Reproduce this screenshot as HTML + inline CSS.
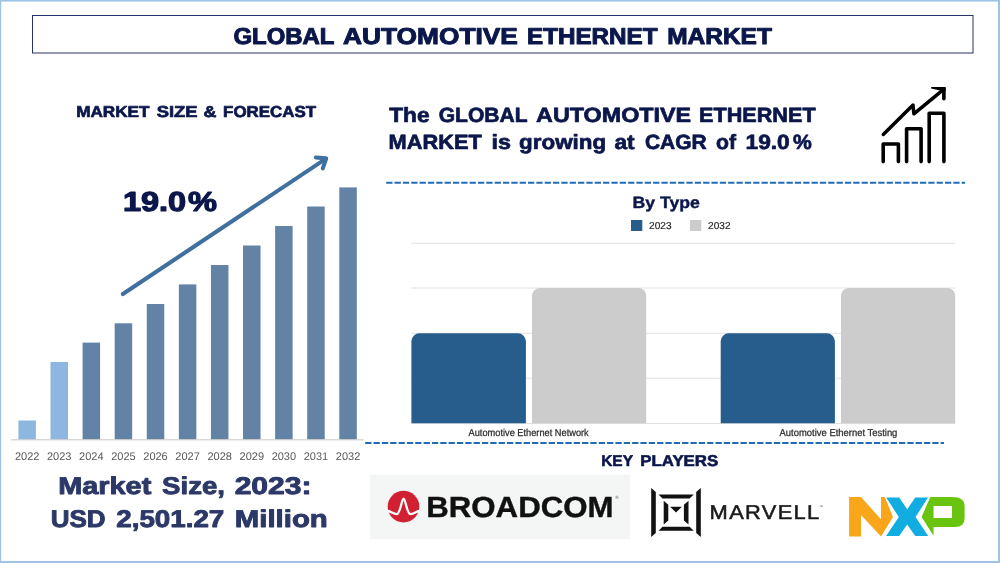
<!DOCTYPE html>
<html lang="en"><head><meta charset="utf-8"><title>Global Automotive Ethernet Market</title>
<style>
html,body{margin:0;padding:0;background:#fff;}
body{width:1000px;height:563px;overflow:hidden;position:relative;font-family:"Liberation Sans",sans-serif;}
svg{position:absolute;left:0;top:0;display:block}
text{font-family:"Liberation Sans",sans-serif;text-rendering:geometricPrecision}
</style></head><body>
<svg width="1000" height="563" viewBox="0 0 1000 563">
<rect x="0" y="0" width="1000" height="563" fill="#ffffff"/>
<!-- page border -->
<rect x="0" y="0" width="1000" height="1.6" fill="#9dc3e6"/>
<rect x="0" y="0" width="1.2" height="563" fill="#9dc3e6"/>
<rect x="998" y="0" width="2" height="563" fill="#9dc3e6"/>
<rect x="0" y="561" width="1000" height="2" fill="#9dc3e6"/>
<!-- title box -->
<rect x="32.5" y="15.5" width="940.5" height="37.5" fill="#fff" stroke="#27326a" stroke-width="1"/>
<g>
<rect x="18.40" y="420.5" width="17.5" height="19.1" fill="#8db7df"/>
<text x="27.15" y="460" font-size="11" fill="#595959" text-anchor="middle">2022</text>
<rect x="50.49" y="362" width="17.5" height="77.6" fill="#8db7df"/>
<text x="59.24" y="460" font-size="11" fill="#595959" text-anchor="middle">2023</text>
<rect x="82.58" y="342.6" width="17.5" height="97.0" fill="#6283a5"/>
<text x="91.33" y="460" font-size="11" fill="#595959" text-anchor="middle">2024</text>
<rect x="114.67" y="323.3" width="17.5" height="116.3" fill="#6283a5"/>
<text x="123.42" y="460" font-size="11" fill="#595959" text-anchor="middle">2025</text>
<rect x="146.76" y="304" width="17.5" height="135.6" fill="#6283a5"/>
<text x="155.51" y="460" font-size="11" fill="#595959" text-anchor="middle">2026</text>
<rect x="178.85" y="284.4" width="17.5" height="155.2" fill="#6283a5"/>
<text x="187.60" y="460" font-size="11" fill="#595959" text-anchor="middle">2027</text>
<rect x="210.94" y="265" width="17.5" height="174.6" fill="#6283a5"/>
<text x="219.69" y="460" font-size="11" fill="#595959" text-anchor="middle">2028</text>
<rect x="243.03" y="245.5" width="17.5" height="194.1" fill="#6283a5"/>
<text x="251.78" y="460" font-size="11" fill="#595959" text-anchor="middle">2029</text>
<rect x="275.12" y="226" width="17.5" height="213.6" fill="#6283a5"/>
<text x="283.87" y="460" font-size="11" fill="#595959" text-anchor="middle">2030</text>
<rect x="307.21" y="206.5" width="17.5" height="233.1" fill="#6283a5"/>
<text x="315.96" y="460" font-size="11" fill="#595959" text-anchor="middle">2031</text>
<rect x="339.30" y="187.4" width="17.5" height="252.2" fill="#6283a5"/>
<text x="348.05" y="460" font-size="11" fill="#595959" text-anchor="middle">2032</text>
<rect x="11" y="439.2" width="352.5" height="1.2" fill="#cfcfcf"/>
</g>
<g fill="none" stroke="#3f709f" stroke-width="4.1" stroke-linecap="round" stroke-linejoin="round">
<path d="M122.9 294.0 L325.6 158.9"/>
<path d="M315.8 157.5 L326.2 158.4 L322.8 168.4"/>
</g>
<g fill="none" stroke="#000" stroke-width="3.6" stroke-linecap="round" stroke-linejoin="round">
<path d="M883.2 161.6 V144 H898.4 V161.6"/>
<path d="M906.6 161.6 V128.7 H921.1 V161.6"/>
<path d="M929.2 161.6 V113.3 H943.9 V161.6"/>
<path d="M883.3 134.4 L913.0 105.0 L913.9 113.8 L943.3 89.6" stroke-width="3.5"/>
<path d="M943.9 89 V98.7" stroke-width="3.6"/>
</g>
<polygon points="931.2,86.9 945.7,86.9 945.7,90.8 939,90.2 931.2,88.4" fill="#000"/>
<path d="M386.2 182.7 H965" stroke="#1f6db8" stroke-width="2" stroke-dasharray="6.3 2.04" fill="none"/>
<path d="M365.2 443.1 H944" stroke="#1f6db8" stroke-width="2" stroke-dasharray="6.3 2.04" fill="none"/>
<rect x="631" y="220" width="11.3" height="11" fill="#265d8d"/>
<rect x="690" y="220" width="11.3" height="11" fill="#cccccc"/>
<rect x="411.4" y="242.8" width="543.8" height="1" fill="#e1e1e1"/>
<rect x="411.4" y="287.5" width="543.8" height="1" fill="#e1e1e1"/>
<rect x="411.4" y="332.8" width="543.8" height="1" fill="#e1e1e1"/>
<rect x="411.4" y="377.7" width="543.8" height="1" fill="#e1e1e1"/>
<rect x="411.4" y="423.0" width="543.8" height="1" fill="#e1e1e1"/>
<path d="M411.4 423.3 V341.3 A8 8 0 0 1 419.4 333.3 H517.9 A8 8 0 0 1 525.9 341.3 V423.3 Z" fill="#265d8d"/>
<path d="M532 423.3 V295.9 A8 8 0 0 1 540 287.9 H638.2 A8 8 0 0 1 646.2 295.9 V423.3 Z" fill="#cccccc"/>
<path d="M720.7 423.3 V341.3 A8 8 0 0 1 728.7 333.3 H826.9 A8 8 0 0 1 834.9 341.3 V423.3 Z" fill="#265d8d"/>
<path d="M841 423.3 V295.9 A8 8 0 0 1 849 287.9 H947.2 A8 8 0 0 1 955.2 295.9 V423.3 Z" fill="#cccccc"/>
<rect x="369.8" y="474.7" width="260.4" height="64.4" fill="#f4f5f5"/>
<circle cx="403.5" cy="506.6" r="15.8" fill="#d12031"/>
<path d="M388 511 C391 511.5 393.5 514.2 396.5 514.2 C400.6 514.2 401.5 498.6 403.6 498.6 C405.7 498.6 406.6 514.2 410.7 514.2 C413.7 514.2 416.2 511.5 419.2 511" fill="none" stroke="#fff" stroke-width="2.3" stroke-linecap="butt"/>
<text x="615.3" y="498.8" font-size="4.5" fill="#555">®</text>
<g fill="#111">
<polygon points="651.2,488.1 655.8,492.1 655.8,533.1 651.2,537.1"/>
<polygon points="700.8,488.1 696.2,492.1 696.2,533.1 700.8,537.1"/>
<polygon points="658.5,494.4 693.7,494.4 689.6,498.5 662.5,498.5"/>
<polygon points="662.5,526.7 689.6,526.7 693.7,530.8 658.5,530.8"/>
<polygon points="663.7,500.8 668.3,504.8 668.3,520.4 663.7,524.4"/>
<polygon points="688.5,500.8 683.9,504.8 683.9,520.4 688.5,524.4"/>
<polygon points="670.2,506.8 681.8,506.8 676,512.5"/>
</g>
<text x="819.5" y="507.5" font-size="3.5" fill="#444">™</text>
<polygon points="849.10,496.90 861.00,496.90 881.02,519.30 881.02,496.90 884.80,496.90 892.92,516.92 881.02,536.52 861.00,515.10 861.00,536.52 849.10,536.52" fill="#f9a61a"/>
<path fill-rule="evenodd" d="M930.30 496.90 L952.00 496.90 Q964.60 496.90 964.60 506.00 L964.60 518.60 Q964.60 527.00 954.80 527.00 L933.52 527.00 L933.52 535.68 L921.62 516.92 Z M933.52 506.00 L952.00 506.00 L952.00 517.90 L933.52 517.90 Z" fill="#69c40f"/>
<polygon points="885.08,496.90 899.50,496.90 907.20,508.10 914.90,496.90 929.18,496.90 916.30,516.92 929.18,536.52 914.90,536.52 907.20,525.60 899.50,536.52 885.08,536.52 898.10,516.92" fill="#12ade0" stroke="#fff" stroke-width="1.2"/>
<text font-weight="bold" x="233.40" y="44.25" font-size="23.0" fill="#0b174b" stroke="#0b174b" stroke-width="1.0" stroke-linejoin="round" textLength="101.10" lengthAdjust="spacingAndGlyphs">GLOBAL</text>
<text font-weight="bold" x="343.07" y="44.25" font-size="23.0" fill="#0b174b" stroke="#0b174b" stroke-width="1.0" stroke-linejoin="round" textLength="174.76" lengthAdjust="spacingAndGlyphs">AUTOMOTIVE</text>
<text font-weight="bold" x="526.99" y="44.25" font-size="23.0" fill="#0b174b" stroke="#0b174b" stroke-width="1.0" stroke-linejoin="round" textLength="130.46" lengthAdjust="spacingAndGlyphs">ETHERNET</text>
<text font-weight="bold" x="667.24" y="44.25" font-size="23.0" fill="#0b174b" stroke="#0b174b" stroke-width="1.0" stroke-linejoin="round" textLength="104.61" lengthAdjust="spacingAndGlyphs">MARKET</text>
<text font-weight="bold" x="76.20" y="116.95" font-size="15.8" fill="#0b174b" stroke="#0b174b" stroke-width="0.7" stroke-linejoin="round" textLength="73.29" lengthAdjust="spacingAndGlyphs">MARKET</text>
<text font-weight="bold" x="156.66" y="116.95" font-size="15.8" fill="#0b174b" stroke="#0b174b" stroke-width="0.7" stroke-linejoin="round" textLength="40.84" lengthAdjust="spacingAndGlyphs">SIZE</text>
<text font-weight="bold" x="203.63" y="116.95" font-size="15.8" fill="#0b174b" stroke="#0b174b" stroke-width="0.7" stroke-linejoin="round" textLength="12.94" lengthAdjust="spacingAndGlyphs">&amp;</text>
<text font-weight="bold" x="223.14" y="116.95" font-size="15.8" fill="#0b174b" stroke="#0b174b" stroke-width="0.7" stroke-linejoin="round" textLength="93.03" lengthAdjust="spacingAndGlyphs">FORECAST</text>
<text font-weight="bold" x="122.90" y="210.60" font-size="27.5" fill="#0b174b" stroke="#0b174b" stroke-width="1.2" stroke-linejoin="round" textLength="63.24" lengthAdjust="spacingAndGlyphs">19.0</text>
<text font-weight="bold" x="188.07" y="210.60" font-size="27.5" fill="#0b174b" stroke="#0b174b" stroke-width="1.2" stroke-linejoin="round" textLength="28.97" lengthAdjust="spacingAndGlyphs">%</text>
<text font-weight="bold" x="58.21" y="494.35" font-size="24.2" fill="#2b3868" stroke="#2b3868" stroke-width="0.9" stroke-linejoin="round" textLength="93.08" lengthAdjust="spacingAndGlyphs">Market</text>
<text font-weight="bold" x="162.09" y="494.35" font-size="24.2" fill="#2b3868" stroke="#2b3868" stroke-width="0.9" stroke-linejoin="round" textLength="62.85" lengthAdjust="spacingAndGlyphs">Size,</text>
<text font-weight="bold" x="234.65" y="494.35" font-size="24.2" fill="#2b3868" stroke="#2b3868" stroke-width="0.9" stroke-linejoin="round" textLength="76.95" lengthAdjust="spacingAndGlyphs">2023:</text>
<text font-weight="bold" x="50.70" y="527.15" font-size="24.2" fill="#2b3868" stroke="#2b3868" stroke-width="0.9" stroke-linejoin="round" textLength="54.95" lengthAdjust="spacingAndGlyphs">USD</text>
<text font-weight="bold" x="116.24" y="527.15" font-size="24.2" fill="#2b3868" stroke="#2b3868" stroke-width="0.9" stroke-linejoin="round" textLength="108.03" lengthAdjust="spacingAndGlyphs">2,501.27</text>
<text font-weight="bold" x="234.89" y="527.15" font-size="24.2" fill="#2b3868" stroke="#2b3868" stroke-width="0.9" stroke-linejoin="round" textLength="92.89" lengthAdjust="spacingAndGlyphs">Million</text>
<text font-weight="bold" x="389.27" y="121.55" font-size="20.6" fill="#0b174b" stroke="#0b174b" stroke-width="0.7" stroke-linejoin="round" textLength="40.30" lengthAdjust="spacingAndGlyphs">The</text>
<text font-weight="bold" x="438.72" y="121.55" font-size="20.6" fill="#0b174b" stroke="#0b174b" stroke-width="0.7" stroke-linejoin="round" textLength="88.82" lengthAdjust="spacingAndGlyphs">GLOBAL</text>
<text font-weight="bold" x="536.09" y="121.55" font-size="20.6" fill="#0b174b" stroke="#0b174b" stroke-width="0.7" stroke-linejoin="round" textLength="155.06" lengthAdjust="spacingAndGlyphs">AUTOMOTIVE</text>
<text font-weight="bold" x="699.07" y="121.55" font-size="20.6" fill="#0b174b" stroke="#0b174b" stroke-width="0.7" stroke-linejoin="round" textLength="116.54" lengthAdjust="spacingAndGlyphs">ETHERNET</text>
<text font-weight="bold" x="388.50" y="148.75" font-size="20.6" fill="#0b174b" stroke="#0b174b" stroke-width="0.7" stroke-linejoin="round" textLength="93.38" lengthAdjust="spacingAndGlyphs">MARKET</text>
<text font-weight="bold" x="491.62" y="148.75" font-size="20.6" fill="#0b174b" stroke="#0b174b" stroke-width="0.7" stroke-linejoin="round" textLength="19.43" lengthAdjust="spacingAndGlyphs">is</text>
<text font-weight="bold" x="519.11" y="148.75" font-size="20.6" fill="#0b174b" stroke="#0b174b" stroke-width="0.7" stroke-linejoin="round" textLength="86.99" lengthAdjust="spacingAndGlyphs">growing</text>
<text font-weight="bold" x="614.49" y="148.75" font-size="20.6" fill="#0b174b" stroke="#0b174b" stroke-width="0.7" stroke-linejoin="round" textLength="20.17" lengthAdjust="spacingAndGlyphs">at</text>
<text font-weight="bold" x="644.93" y="148.75" font-size="20.6" fill="#0b174b" stroke="#0b174b" stroke-width="0.7" stroke-linejoin="round" textLength="61.76" lengthAdjust="spacingAndGlyphs">CAGR</text>
<text font-weight="bold" x="716.11" y="148.75" font-size="20.6" fill="#0b174b" stroke="#0b174b" stroke-width="0.7" stroke-linejoin="round" textLength="20.00" lengthAdjust="spacingAndGlyphs">of</text>
<text font-weight="bold" x="745.50" y="148.75" font-size="20.6" fill="#0b174b" stroke="#0b174b" stroke-width="0.7" stroke-linejoin="round" textLength="44.23" lengthAdjust="spacingAndGlyphs">19.0</text>
<text font-weight="bold" x="793.11" y="148.75" font-size="20.6" fill="#0b174b" stroke="#0b174b" stroke-width="0.7" stroke-linejoin="round" textLength="18.76" lengthAdjust="spacingAndGlyphs">%</text>
<text font-weight="bold" x="632.46" y="207.60" font-size="16.3" fill="#0b174b" stroke="#0b174b" stroke-width="0.4" stroke-linejoin="round" textLength="67.45" lengthAdjust="spacingAndGlyphs">By Type</text>
<text font-weight="normal" x="649.09" y="229.20" font-size="10" fill="#2a2a2a" stroke="#2a2a2a" stroke-width="0.2" stroke-linejoin="round" textLength="22.46" lengthAdjust="spacingAndGlyphs">2023</text>
<text font-weight="normal" x="708.09" y="229.20" font-size="10" fill="#2a2a2a" stroke="#2a2a2a" stroke-width="0.2" stroke-linejoin="round" textLength="22.41" lengthAdjust="spacingAndGlyphs">2032</text>
<text font-weight="normal" x="468.57" y="435.70" font-size="10" fill="#2a2a2a" stroke="#2a2a2a" stroke-width="0.25" stroke-linejoin="round" textLength="120.18" lengthAdjust="spacingAndGlyphs">Automotive Ethernet Network</text>
<text font-weight="normal" x="779.59" y="435.70" font-size="10" fill="#2a2a2a" stroke="#2a2a2a" stroke-width="0.25" stroke-linejoin="round" textLength="117.79" lengthAdjust="spacingAndGlyphs">Automotive Ethernet Testing</text>
<text font-weight="bold" x="601.20" y="465.60" font-size="15.6" fill="#0b174b" stroke="#0b174b" stroke-width="0.6" stroke-linejoin="round" textLength="31.76" lengthAdjust="spacingAndGlyphs">KEY</text>
<text font-weight="bold" x="640.25" y="465.60" font-size="15.6" fill="#0b174b" stroke="#0b174b" stroke-width="0.6" stroke-linejoin="round" textLength="78.00" lengthAdjust="spacingAndGlyphs">PLAYERS</text>
<text font-weight="bold" x="426.25" y="516.90" font-size="29.2" fill="#111" stroke="#111" stroke-width="0.4" stroke-linejoin="round" textLength="187.25" lengthAdjust="spacingAndGlyphs">BROADCOM</text>
<text letter-spacing="1.2" font-weight="normal" x="709.61" y="519.30" font-size="20" fill="#1a1a1a" stroke="#1a1a1a" stroke-width="0.55" stroke-linejoin="round" textLength="110.97" lengthAdjust="spacingAndGlyphs">MARVELL</text>
</svg>
</body></html>
